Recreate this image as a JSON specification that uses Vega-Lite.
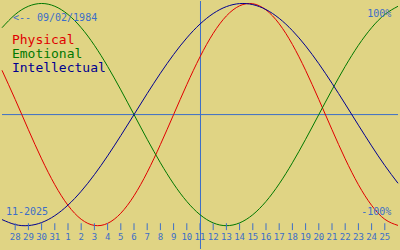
{
  "$schema": "https://vega.github.io/schema/vega-lite/v6.json",
  "width": 400,
  "height": 250,
  "padding": 0,
  "autosize": {"type": "fit", "contains": "padding"},
  "background": "#E0D484",
  "config": {"view": {"stroke": null}},
  "datasets": {
    "curves": [
      {"d":0,"v":0.3984,"s":"Physical"},{"d":1,"v":0.1362,"s":"Physical"},{"d":2,"v":-0.1362,"s":"Physical"},{"d":3,"v":-0.3984,"s":"Physical"},{"d":4,"v":-0.6311,"s":"Physical"},{"d":5,"v":-0.8170,"s":"Physical"},{"d":6,"v":-0.9423,"s":"Physical"},{"d":7,"v":-0.9977,"s":"Physical"},{"d":8,"v":-0.9791,"s":"Physical"},{"d":9,"v":-0.8879,"s":"Physical"},{"d":10,"v":-0.7308,"s":"Physical"},{"d":11,"v":-0.5196,"s":"Physical"},{"d":12,"v":-0.2698,"s":"Physical"},{"d":13,"v":0,"s":"Physical"},{"d":14,"v":0.2698,"s":"Physical"},{"d":15,"v":0.5196,"s":"Physical"},{"d":16,"v":0.7308,"s":"Physical"},{"d":17,"v":0.8879,"s":"Physical"},{"d":18,"v":0.9791,"s":"Physical"},{"d":19,"v":0.9977,"s":"Physical"},{"d":20,"v":0.9423,"s":"Physical"},{"d":21,"v":0.8170,"s":"Physical"},{"d":22,"v":0.6311,"s":"Physical"},{"d":23,"v":0.3984,"s":"Physical"},{"d":24,"v":0.1362,"s":"Physical"},{"d":25,"v":-0.1362,"s":"Physical"},{"d":26,"v":-0.3984,"s":"Physical"},{"d":27,"v":-0.6311,"s":"Physical"},{"d":28,"v":-0.8170,"s":"Physical"},{"d":29,"v":-0.9423,"s":"Physical"},{"d":30,"v":-0.9977,"s":"Physical"},
      {"d":0,"v":0.7818,"s":"Emotional"},{"d":1,"v":0.9010,"s":"Emotional"},{"d":2,"v":0.9749,"s":"Emotional"},{"d":3,"v":1,"s":"Emotional"},{"d":4,"v":0.9749,"s":"Emotional"},{"d":5,"v":0.9010,"s":"Emotional"},{"d":6,"v":0.7818,"s":"Emotional"},{"d":7,"v":0.6235,"s":"Emotional"},{"d":8,"v":0.4339,"s":"Emotional"},{"d":9,"v":0.2225,"s":"Emotional"},{"d":10,"v":0,"s":"Emotional"},{"d":11,"v":-0.2225,"s":"Emotional"},{"d":12,"v":-0.4339,"s":"Emotional"},{"d":13,"v":-0.6235,"s":"Emotional"},{"d":14,"v":-0.7818,"s":"Emotional"},{"d":15,"v":-0.9010,"s":"Emotional"},{"d":16,"v":-0.9749,"s":"Emotional"},{"d":17,"v":-1,"s":"Emotional"},{"d":18,"v":-0.9749,"s":"Emotional"},{"d":19,"v":-0.9010,"s":"Emotional"},{"d":20,"v":-0.7818,"s":"Emotional"},{"d":21,"v":-0.6235,"s":"Emotional"},{"d":22,"v":-0.4339,"s":"Emotional"},{"d":23,"v":-0.2225,"s":"Emotional"},{"d":24,"v":0,"s":"Emotional"},{"d":25,"v":0.2225,"s":"Emotional"},{"d":26,"v":0.4339,"s":"Emotional"},{"d":27,"v":0.6235,"s":"Emotional"},{"d":28,"v":0.7818,"s":"Emotional"},{"d":29,"v":0.9010,"s":"Emotional"},{"d":30,"v":0.9749,"s":"Emotional"},
      {"d":0,"v":-0.9450,"s":"Intellectual"},{"d":1,"v":-0.9898,"s":"Intellectual"},{"d":2,"v":-0.9989,"s":"Intellectual"},{"d":3,"v":-0.9718,"s":"Intellectual"},{"d":4,"v":-0.9096,"s":"Intellectual"},{"d":5,"v":-0.8146,"s":"Intellectual"},{"d":6,"v":-0.6901,"s":"Intellectual"},{"d":7,"v":-0.5406,"s":"Intellectual"},{"d":8,"v":-0.3717,"s":"Intellectual"},{"d":9,"v":-0.1893,"s":"Intellectual"},{"d":10,"v":0,"s":"Intellectual"},{"d":11,"v":0.1893,"s":"Intellectual"},{"d":12,"v":0.3717,"s":"Intellectual"},{"d":13,"v":0.5406,"s":"Intellectual"},{"d":14,"v":0.6901,"s":"Intellectual"},{"d":15,"v":0.8146,"s":"Intellectual"},{"d":16,"v":0.9096,"s":"Intellectual"},{"d":17,"v":0.9718,"s":"Intellectual"},{"d":18,"v":0.9989,"s":"Intellectual"},{"d":19,"v":0.9898,"s":"Intellectual"},{"d":20,"v":0.9450,"s":"Intellectual"},{"d":21,"v":0.8660,"s":"Intellectual"},{"d":22,"v":0.7557,"s":"Intellectual"},{"d":23,"v":0.6182,"s":"Intellectual"},{"d":24,"v":0.4582,"s":"Intellectual"},{"d":25,"v":0.2817,"s":"Intellectual"},{"d":26,"v":0.0951,"s":"Intellectual"},{"d":27,"v":-0.0951,"s":"Intellectual"},{"d":28,"v":-0.2817,"s":"Intellectual"},{"d":29,"v":-0.4582,"s":"Intellectual"},{"d":30,"v":-0.6182,"s":"Intellectual"}
    ],
    "days": [
      {"d":1,"label":"28"},{"d":2,"label":"29"},{"d":3,"label":"30"},{"d":4,"label":"31"},{"d":5,"label":"1"},{"d":6,"label":"2"},{"d":7,"label":"3"},{"d":8,"label":"4"},{"d":9,"label":"5"},{"d":10,"label":"6"},{"d":11,"label":"7"},{"d":12,"label":"8"},{"d":13,"label":"9"},{"d":14,"label":"10"},{"d":15,"label":"11"},{"d":16,"label":"12"},{"d":17,"label":"13"},{"d":18,"label":"14"},{"d":19,"label":"15"},{"d":20,"label":"16"},{"d":21,"label":"17"},{"d":22,"label":"18"},{"d":23,"label":"19"},{"d":24,"label":"20"},{"d":25,"label":"21"},{"d":26,"label":"22"},{"d":27,"label":"23"},{"d":28,"label":"24"},{"d":29,"label":"25"}
    ],
    "titles": [
      {"d":0.75,"v":0.638,"t":"Physical","s":"Physical"},
      {"d":0.75,"v":0.509,"t":"Emotional","s":"Emotional"},
      {"d":0.75,"v":0.3795,"t":"Intellectual","s":"Intellectual"}
    ],
    "one": [{}]
  },
  "layer": [
    {
      "data": {"name": "one"},
      "mark": {"type": "rule", "color": "#3C6EC8", "strokeWidth": 1},
      "encoding": {
        "y": {"datum": 0, "type": "quantitative", "scale": {"domain": [-1.2098, 1.0223], "nice": false, "zero": false}, "axis": null}
      }
    },
    {
      "data": {"name": "one"},
      "mark": {"type": "rule", "color": "#3C6EC8", "strokeWidth": 1},
      "encoding": {
        "x": {"datum": 15.0375, "type": "quantitative", "scale": {"domain": [0, 30], "nice": false, "zero": false}, "axis": null}
      }
    },
    {
      "data": {"name": "curves"},
      "mark": {"type": "line", "strokeWidth": 1, "interpolate": "natural"},
      "encoding": {
        "x": {"field": "d", "type": "quantitative", "scale": {"domain": [0, 30], "nice": false, "zero": false}, "axis": null},
        "y": {"field": "v", "type": "quantitative", "scale": {"domain": [-1.2098, 1.0223], "nice": false, "zero": false}, "axis": null},
        "color": {"field": "s", "type": "nominal", "scale": {"domain": ["Physical", "Emotional", "Intellectual"], "range": ["#E00000", "#007800", "#000090"]}, "legend": null},
        "detail": {"field": "s"}
      }
    },
    {
      "data": {"name": "days"},
      "mark": {"type": "rule", "color": "#3C6EC8", "strokeWidth": 1},
      "encoding": {
        "x": {"field": "d", "type": "quantitative", "scale": {"domain": [0, 30], "nice": false, "zero": false}, "axis": null},
        "y": {"datum": -0.978, "type": "quantitative"},
        "y2": {"datum": -1.04}
      }
    },
    {
      "data": {"name": "days"},
      "mark": {"type": "text", "color": "#3C6EC8", "font": "DejaVu Sans Mono", "fontSize": 9, "align": "center", "baseline": "alphabetic"},
      "encoding": {
        "x": {"field": "d", "type": "quantitative", "scale": {"domain": [0, 30], "nice": false, "zero": false}, "axis": null},
        "y": {"datum": -1.1295, "type": "quantitative"},
        "text": {"field": "label"}
      }
    },
    {
      "data": {"name": "titles"},
      "mark": {"type": "text", "font": "DejaVu Sans Mono", "fontSize": 13, "align": "left", "baseline": "alphabetic"},
      "encoding": {
        "x": {"field": "d", "type": "quantitative"},
        "y": {"field": "v", "type": "quantitative"},
        "text": {"field": "t"},
        "color": {"field": "s", "type": "nominal", "legend": null}
      }
    },
    {
      "data": {"name": "one"},
      "mark": {"type": "text", "text": "<-- 09/02/1984", "color": "#3C6EC8", "font": "DejaVu Sans Mono", "fontSize": 10, "align": "left", "baseline": "alphabetic"},
      "encoding": {"x": {"datum": 0.825, "type": "quantitative"}, "y": {"datum": 0.844, "type": "quantitative"}}
    },
    {
      "data": {"name": "one"},
      "mark": {"type": "text", "text": "100%", "color": "#3C6EC8", "font": "DejaVu Sans Mono", "fontSize": 10, "align": "right", "baseline": "alphabetic"},
      "encoding": {"x": {"datum": 29.5, "type": "quantitative"}, "y": {"datum": 0.879, "type": "quantitative"}}
    },
    {
      "data": {"name": "one"},
      "mark": {"type": "text", "text": "11-2025", "color": "#3C6EC8", "font": "DejaVu Sans Mono", "fontSize": 10, "align": "left", "baseline": "alphabetic"},
      "encoding": {"x": {"datum": 0.3, "type": "quantitative"}, "y": {"datum": -0.906, "type": "quantitative"}}
    },
    {
      "data": {"name": "one"},
      "mark": {"type": "text", "text": "-100%", "color": "#3C6EC8", "font": "DejaVu Sans Mono", "fontSize": 10, "align": "right", "baseline": "alphabetic"},
      "encoding": {"x": {"datum": 29.5, "type": "quantitative"}, "y": {"datum": -0.906, "type": "quantitative"}}
    }
  ]
}
